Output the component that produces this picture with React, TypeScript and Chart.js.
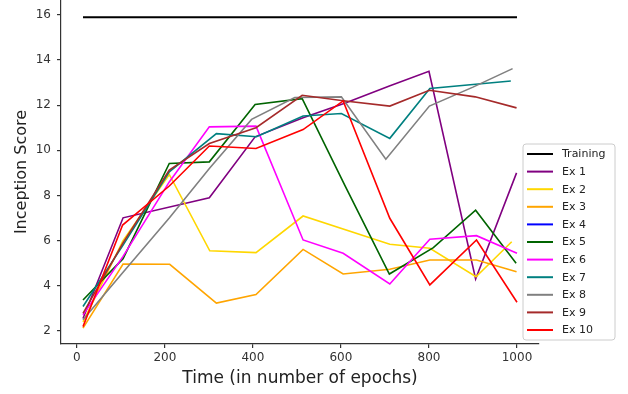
import React, { useEffect, useRef } from "react";
import { Chart, registerables } from "chart.js";

Chart.register(...registerables);

// ---- data ----
const xTicks = [0, 200, 400, 600, 800, 1000];
const yTicks = [2, 4, 6, 8, 10, 12, 14, 16];

const seriesNames = ["Training", "Ex 1", "Ex 2", "Ex 3", "Ex 4", "Ex 5", "Ex 6", "Ex 7", "Ex 8", "Ex 9", "Ex 10"];
const seriesColors = ["#000000", "#800080", "#FFD700", "#FFA500", "#0000FF", "#006400", "#FF00FF", "#008080", "#808080", "#A52A2A", "#FF0000"];

const training: number[][] = [[14, 15.9], [1000, 15.9]];
const ex1: number[][] = [[14, 2.55], [105, 7.01], [301, 7.9], [405, 10.6], [514, 11.44], [610, 12.1], [710, 12.85], [800, 13.5], [906, 4.3], [999, 9.0]];
const ex2: number[][] = [[14, 2.4], [105, 6.0], [210, 8.93], [302, 5.55], [407, 5.47], [514, 7.09], [711, 5.84], [802, 5.66], [907, 4.4], [988, 5.95]];
const ex3: number[][] = [[14, 2.12], [105, 4.96], [211, 4.95], [317, 3.23], [407, 3.61], [514, 5.61], [605, 4.52], [711, 4.73], [802, 5.14], [908, 5.14], [999, 4.62]];
const ex4: number[][] = [];
const ex5: number[][] = [[14, 3.37], [105, 5.2], [210, 9.42], [301, 9.49], [405, 12.03], [512, 12.29], [610, 8.4], [710, 4.52], [810, 5.69], [906, 7.35], [998, 5.0]];
const ex6: number[][] = [[14, 2.71], [105, 5.3], [210, 8.6], [301, 11.04], [407, 11.07], [514, 6.03], [605, 5.44], [711, 4.08], [802, 6.06], [908, 6.22], [1000, 5.44]];
const ex7: number[][] = [[14, 3.08], [105, 5.8], [210, 9.05], [317, 10.74], [408, 10.6], [514, 11.52], [601, 11.63], [711, 10.53], [802, 12.74], [986, 13.07]];
const ex8: number[][] = [[14, 2.49], [105, 4.6], [210, 7.0], [301, 9.2], [397, 11.37], [495, 12.34], [601, 12.37], [702, 9.61], [801, 11.96], [900, 12.8], [990, 13.62]];
const ex9: number[][] = [[14, 2.78], [105, 5.9], [210, 9.12], [301, 10.3], [407, 11.0], [512, 12.44], [605, 12.2], [711, 11.96], [801, 12.66], [905, 12.37], [999, 11.88]];
const ex10: number[][] = [[14, 2.19], [104, 6.69], [210, 8.42], [301, 10.19], [407, 10.08], [514, 10.92], [605, 12.19], [711, 6.99], [802, 4.04], [908, 6.03], [1000, 3.27]];

const allSeries = [training, ex1, ex2, ex3, ex4, ex5, ex6, ex7, ex8, ex9, ex10];

const FONT = "'DejaVu Sans', sans-serif";

const legendPlugin = {
  id: "boxLegend",
  afterDraw(chart: any) {
    const ctx = chart.ctx as CanvasRenderingContext2D;
    const ca = chart.chartArea;
    const w = 92;
    const h = 196;
    const x0 = ca.right - 16;
    const y0 = ca.bottom - 4 - h;
    const rowH = 17.6;
    ctx.save();
    ctx.beginPath();
    const r = 3;
    ctx.moveTo(x0 + r, y0);
    ctx.lineTo(x0 + w - r, y0);
    ctx.quadraticCurveTo(x0 + w, y0, x0 + w, y0 + r);
    ctx.lineTo(x0 + w, y0 + h - r);
    ctx.quadraticCurveTo(x0 + w, y0 + h, x0 + w - r, y0 + h);
    ctx.lineTo(x0 + r, y0 + h);
    ctx.quadraticCurveTo(x0, y0 + h, x0, y0 + h - r);
    ctx.lineTo(x0, y0 + r);
    ctx.quadraticCurveTo(x0, y0, x0 + r, y0);
    ctx.closePath();
    ctx.fillStyle = "rgba(255,255,255,0.8)";
    ctx.fill();
    ctx.strokeStyle = "#cccccc";
    ctx.lineWidth = 1;
    ctx.stroke();
    ctx.font = `11px ${FONT}`;
    ctx.textBaseline = "middle";
    ctx.textAlign = "left";
    chart.data.datasets.forEach((ds: any, i: number) => {
      const cy = y0 + 10 + i * rowH;
      ctx.beginPath();
      ctx.moveTo(x0 + 4, cy);
      ctx.lineTo(x0 + 30, cy);
      ctx.strokeStyle = ds.borderColor;
      ctx.lineWidth = 2;
      ctx.stroke();
      ctx.fillStyle = "#222222";
      ctx.fillText(ds.label, x0 + 39, cy + 0.5);
    });
    ctx.restore();
  },
};

export default function App() {
  const ref = useRef<HTMLCanvasElement | null>(null);

  useEffect(() => {
    if (!ref.current) return;
    const n = allSeries.length;
    const chart = new Chart(ref.current, {
      type: "line",
      data: {
        datasets: allSeries.map((s, i) => ({
          label: seriesNames[i],
          data: s.map(([x, y]) => ({ x, y })),
          borderColor: seriesColors[i],
          backgroundColor: seriesColors[i],
          borderWidth: i === 0 ? 2 : 1.6,
          pointRadius: 0,
          tension: 0,
          fill: false,
          order: n - i,
        })),
      },
      options: {
        animation: false,
        responsive: false,
        layout: { padding: { left: 0, top: 0, right: 89, bottom: 0 } },
        plugins: {
          legend: { display: false },
          tooltip: { enabled: false },
        },
        scales: {
          x: {
            type: "linear",
            min: -36,
            max: 1050,
            afterBuildTicks: (axis: any) => {
              axis.ticks = xTicks.map((v) => ({ value: v }));
            },
            afterFit: (s: any) => {
              s.height = 50;
              s.paddingLeft = 0;
              s.paddingRight = 0;
            },
            grid: { drawOnChartArea: false, drawTicks: true, tickLength: 4, color: "#333333", lineWidth: 1.2 },
            border: { display: true, color: "#333333", width: 1.2 },
            ticks: {
              font: { family: FONT, size: 12 },
              color: "#333333",
              padding: 3,
              maxRotation: 0,
              callback: (v: any) => String(v),
            },
            title: {
              display: true,
              text: "Time (in number of epochs)",
              font: { family: FONT, size: 17 },
              color: "#222222",
              padding: { top: 0, bottom: 5 },
            },
          },
          y: {
            type: "linear",
            min: 1.42,
            max: 16.66,
            afterBuildTicks: (axis: any) => {
              axis.ticks = yTicks.map((v) => ({ value: v }));
            },
            afterFit: (s: any) => {
              s.width = 61;
              s.paddingTop = 0;
              s.paddingBottom = 0;
            },
            grid: { drawOnChartArea: false, drawTicks: true, tickLength: 4, color: "#333333", lineWidth: 1.2 },
            border: { display: true, color: "#333333", width: 1.2 },
            ticks: { font: { family: FONT, size: 12 }, color: "#333333", padding: 6, callback: (v: any) => String(v) },
            title: {
              display: true,
              text: "Inception Score",
              font: { family: FONT, size: 16 },
              color: "#222222",
              padding: { top: 12, bottom: 0 },
            },
          },
        },
      },
      plugins: [legendPlugin],
    });
    return () => chart.destroy();
  }, []);

  return (
    <div style={{ position: "absolute", left: 0, top: 0, width: 628, height: 394, background: "#ffffff" }}>
      <canvas ref={ref} width={628} height={394} style={{ display: "block" }} />
    </div>
  );
}
